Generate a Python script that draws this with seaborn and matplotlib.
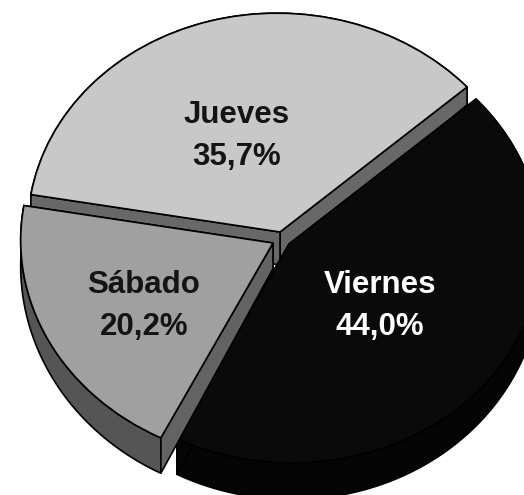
import numpy as np
import matplotlib.pyplot as plt
import seaborn as sns
from matplotlib.patches import Polygon
from matplotlib.transforms import Affine2D

days = ["Jueves", "Sábado", "Viernes"]
shares = [35.7, 20.2, 44.0]
share_labels = ["35,7%", "20,2%", "44,0%"]

top_colors = ["#c8c8c8", "#a0a0a0", "#0a0a0a"]
rim_colors = ["#666666", "#555555", "#050505"]
face_colors = ["#686868", "#636363", "#050505"]
text_colors = ["#141414", "#141414", "#ffffff"]

# pixel position of each slice tip, the pie is tilted so the unit circle gets sheared
tips = [(280, 232), (273, 243), (289, 244)]
tip_extra = [8, 0, 0]
label_pos = [(237, 136), (144, 306), (380, 306)]
draw_order = [0, 2, 1]
axis_x = (187, -145)
axis_y = (-169.4, -163.9)


def project(theta, tip, r=1.0):
    px = tip[0] + r * (axis_x[0] * np.cos(theta) + axis_y[0] * np.sin(theta))
    py = tip[1] + r * (axis_x[1] * np.cos(theta) + axis_y[1] * np.sin(theta))
    return np.column_stack([px, py])


def drop(pts, extra=0):
    # slices get thicker towards the viewer
    out = pts.copy()
    out[:, 1] = pts[:, 1] + 13.5 + 0.05 * pts[:, 1] + extra
    return out


sns.set_style("white")
plt.rcParams["font.family"] = ["Liberation Sans", "DejaVu Sans"]

fig = plt.figure(figsize=(5.24, 4.95), dpi=100)
ax = fig.add_axes([0, 0, 1, 1])

wedges, _ = ax.pie(
    shares,
    colors=top_colors,
    startangle=0,
    wedgeprops={"linewidth": 1.2, "edgecolor": "black"},
)
ax.set_aspect("auto")
ax.set_xlim(0, 524)
ax.set_ylim(495, 0)
ax.axis("off")

edges = np.deg2rad(np.concatenate([[0], np.cumsum(shares)]) / sum(shares) * 360)

for z, i in enumerate(draw_order):
    tip = tips[i]
    base = z * 3

    # outer rim
    theta = np.linspace(edges[i], edges[i + 1], 120)
    arc = project(theta, tip)
    rim = np.vstack([arc, drop(arc)[::-1]])
    ax.add_patch(Polygon(rim, closed=True, facecolor=rim_colors[i], edgecolor="black",
                         linewidth=1.2, zorder=base + 1))

    # the two flat cut faces
    for angle in (edges[i], edges[i + 1]):
        end = project(np.array([angle]), tip)
        centre = np.array([tip], dtype=float)
        quad = np.vstack([centre, end, drop(end), drop(centre, tip_extra[i])])
        ax.add_patch(Polygon(quad, closed=True, facecolor=face_colors[i], edgecolor="black",
                             linewidth=1.2, zorder=base + 1))

    wedges[i].set_transform(
        Affine2D.from_values(axis_x[0], axis_x[1], axis_y[0], axis_y[1], tip[0], tip[1])
        + ax.transData
    )
    wedges[i].set_zorder(base + 2)

    ax.text(label_pos[i][0], label_pos[i][1], days[i] + "\n" + share_labels[i],
            ha="center", va="center", fontsize=22.5, fontweight="bold",
            color=text_colors[i], linespacing=1.5, zorder=20)

fig.savefig("out.png", dpi=100, facecolor="white")
